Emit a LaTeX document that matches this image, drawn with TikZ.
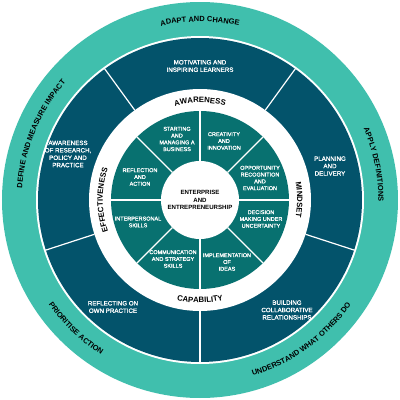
\documentclass[tikz,border=0pt]{standalone}
\usepackage{fontspec}
\setmainfont{Liberation Sans}
\newfontfamily\semibold[FakeBold=1.3]{Liberation Sans}
\usetikzlibrary{decorations.text}
\definecolor{ringteal}{HTML}{40BFAD}
\definecolor{ringdark}{HTML}{03536B}
\definecolor{ringmid}{HTML}{087170}
\tikzset{
  divider/.style={draw=white, line width=1.2pt},
  darktext/.style={text=white, align=center, inner sep=0pt, font=\semibold\fontsize{6.2}{7.4}\selectfont},
  midtext/.style={text=white, align=center, inner sep=0pt, font=\semibold\fontsize{5.5}{6.8}\selectfont},
  centertext/.style={text=black, align=center, inner sep=0pt, font=\fontsize{6.1}{7.8}\selectfont\bfseries},
}
\newcommand\outerfmt{|\fontsize{7.5}{8}\selectfont\bfseries|}
\newcommand\innerfmt{|\fontsize{7.8}{8}\selectfont\bfseries|}
\begin{document}
\begin{tikzpicture}[x=1pt,y=1pt]
\useasboundingbox (-200pt,-200pt) rectangle (200pt,200pt);
% rings
\fill[ringteal] (0,0) circle (198pt);
\fill[white] (0,0) circle (164pt);
\fill[ringdark] (0,0) circle (162pt);
\fill[white] (0,0) circle (111pt);
\fill[ringmid] (0,0) circle (89pt);
\fill[white] (0,0) circle (39pt);
% dividers
\foreach \a in {54,126,198,270,342} \draw[divider] (\a:111pt) -- (\a:162.5pt);
\foreach \a in {0,45,...,315} \draw[divider] (\a:39pt) -- (\a:89pt);
% outer ring labels
\path[decorate, decoration={text along path, text align=center, text={\outerfmt ADAPT AND CHANGE}}]
  (150:178.3pt) arc[start angle=150, end angle=30, radius=178.3pt];
\path[decorate, decoration={text along path, text align=center, text={\outerfmt APPLY DEFINITIONS}}]
  (71.5:178.3pt) arc[start angle=71.5, end angle=-48.5, radius=178.3pt];
\path[decorate, decoration={text along path, text align=center, text={\outerfmt DEFINE AND MEASURE IMPACT}}]
  (217.5:178.3pt) arc[start angle=217.5, end angle=97.5, radius=178.3pt];
\path[decorate, decoration={text along path, text align=center, text={\outerfmt UNDERSTAND WHAT OTHERS DO}}]
  (-114:183.7pt) arc[start angle=-114, end angle=6, radius=183.7pt];
\path[decorate, decoration={text along path, text align=center, text={\outerfmt PRIORITISE ACTION}}]
  (166:183.7pt) arc[start angle=166, end angle=286, radius=183.7pt];
% white ring labels
\path[decorate, decoration={text along path, text align=center, text={\innerfmt AWARENESS}}]
  (150:97.2pt) arc[start angle=150, end angle=30, radius=97.2pt];
\path[decorate, decoration={text along path, text align=center, text={\innerfmt MINDSET}}]
  (60:97.2pt) arc[start angle=60, end angle=-60, radius=97.2pt];
\path[decorate, decoration={text along path, text align=center, text={\innerfmt EFFECTIVENESS}}]
  (240:97.2pt) arc[start angle=240, end angle=120, radius=97.2pt];
\path[decorate, decoration={text along path, text align=center, text={\innerfmt CAPABILITY}}]
  (210:102.8pt) arc[start angle=210, end angle=330, radius=102.8pt];
% dark ring texts
\node[darktext] (motiv) at (0,134) {MOTIVATING AND\\INSPIRING LEARNERS};
\node[darktext] (plan) at (130,34) {PLANNING\\AND\\DELIVERY};
\node[darktext] (build) at (87,-110) {BUILDING\\COLLABORATIVE\\RELATIONSHIPS};
\node[darktext] (reflp) at (-87,-107) {REFLECTING ON\\OWN PRACTICE};
\node[darktext] (aware) at (-132,46) {AWARENESS\\OF RESEARCH,\\POLICY AND\\PRACTICE};
% inner segment texts
\node[midtext] (start) at (-23,61) {STARTING\\AND\\MANAGING A\\BUSINESS};
\node[midtext] (creat) at (24,59) {CREATIVITY\\AND\\INNOVATION};
\node[midtext] (oppor) at (60,22) {OPPORTUNITY\\RECOGNITION\\AND\\EVALUATION};
\node[midtext] (decis) at (61,-19) {DECISION\\MAKING UNDER\\UNCERTAINTY};
\node[midtext] (impl) at (27,-62) {IMPLEMENTATION\\OF\\IDEAS};
\node[midtext] (comm) at (-27,-59) {COMMUNICATION\\AND STRATEGY\\SKILLS};
\node[midtext] (inter) at (-62,-22) {INTERPERSONAL\\SKILLS};
\node[midtext] (refla) at (-60,23) {REFLECTION\\AND\\ACTION};
% centre
\node[centertext] (centre) at (0,0) {ENTERPRISE\\AND\\ENTREPRENEURSHIP};
\end{tikzpicture}
\end{document}
